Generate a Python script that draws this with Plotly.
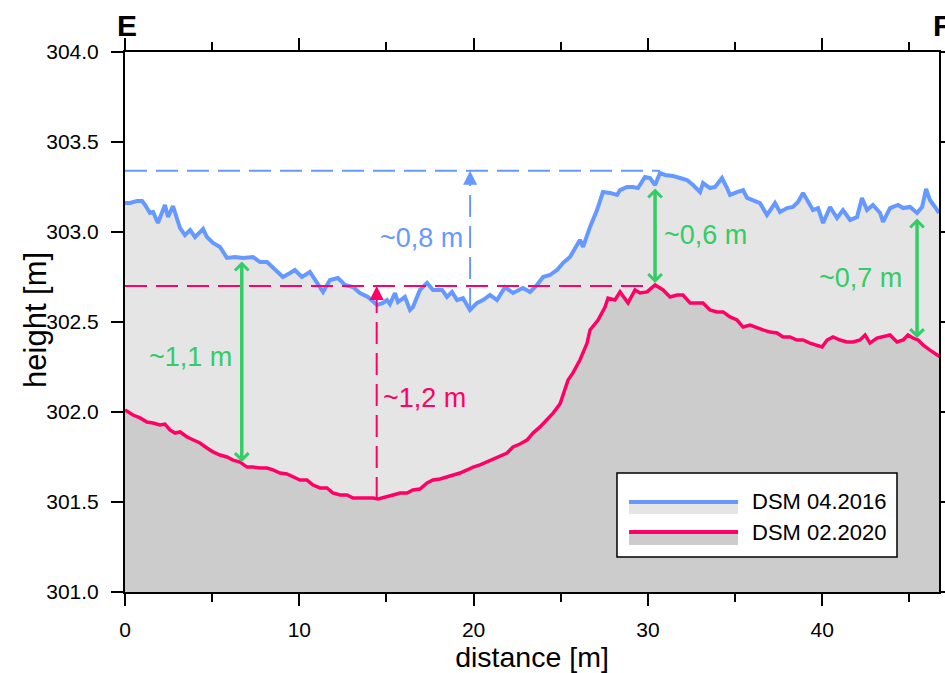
import plotly.graph_objects as go

# ---------------- data ----------------
dist_2016 = [0.00, 0.29, 0.69, 0.98, 1.15, 1.43, 1.61, 1.89, 2.29, 2.47, 2.75, 3.16, 3.44, 3.73, 4.02,
             4.48, 4.70, 5.05, 5.45, 5.85, 6.31, 6.77, 7.34, 7.75, 8.15, 8.49, 9.06, 9.47, 9.75, 10.15,
             10.61, 11.02, 11.36, 11.76, 12.22, 12.62, 13.08, 13.48, 13.94, 14.46, 14.80, 15.03, 15.20,
             15.49, 15.66, 16.06, 16.35, 16.52, 16.92, 17.33, 17.67, 18.19, 18.47, 18.76, 19.05, 19.39,
             19.79, 20.20, 20.54, 20.94, 21.34, 21.80, 22.26, 22.83, 23.24, 23.64, 23.98, 24.38, 24.79,
             25.13, 25.53, 25.93, 26.10, 26.28, 26.68, 27.08, 27.42, 27.83, 28.23, 28.40, 28.80, 29.15,
             29.43, 29.83, 30.12, 30.41, 30.69, 30.98, 31.44, 31.84, 32.24, 32.59, 32.99, 33.16, 33.56,
             33.85, 34.25, 34.54, 34.71, 35.11, 35.46, 35.69, 36.03, 36.43, 36.83, 37.29, 37.58, 37.98,
             38.32, 38.61, 38.90, 39.19, 39.47, 39.76, 40.05, 40.45, 40.85, 41.19, 41.60, 42.00, 42.28,
             42.57, 42.91, 43.32, 43.49, 43.89, 44.35, 44.64, 45.04, 45.44, 45.73, 45.96, 46.18, 46.47,
             46.70]
height_2016 = [303.161, 303.161, 303.172, 303.172, 303.150, 303.106, 303.111, 303.050, 303.150, 303.083,
               303.144, 303.022, 302.983, 303.011, 302.972, 303.017, 302.972, 302.939, 302.917, 302.856,
               302.861, 302.856, 302.861, 302.833, 302.833, 302.800, 302.750, 302.772, 302.789, 302.750,
               302.778, 302.717, 302.667, 302.733, 302.744, 302.706, 302.694, 302.661, 302.639, 302.594,
               302.606, 302.622, 302.600, 302.661, 302.611, 302.639, 302.567, 302.583, 302.678, 302.717,
               302.678, 302.678, 302.639, 302.667, 302.622, 302.633, 302.567, 302.606, 302.622, 302.650,
               302.622, 302.694, 302.661, 302.689, 302.667, 302.706, 302.750, 302.761, 302.789, 302.828,
               302.861, 302.928, 302.956, 302.917, 303.028, 303.122, 303.222, 303.217, 303.206, 303.233,
               303.250, 303.250, 303.244, 303.306, 303.300, 303.261, 303.328, 303.317, 303.311, 303.300,
               303.289, 303.261, 303.222, 303.272, 303.244, 303.250, 303.300, 303.244, 303.206, 303.222,
               303.233, 303.189, 303.178, 303.161, 303.094, 303.161, 303.111, 303.133, 303.139, 303.167,
               303.217, 303.167, 303.122, 303.133, 303.050, 303.139, 303.078, 303.122, 303.067, 303.083,
               303.189, 303.122, 303.150, 303.106, 303.056, 303.133, 303.150, 303.133, 303.139, 303.106,
               303.139, 303.239, 303.178, 303.139, 303.106]

dist_2020 = [0.00, 0.46, 0.86, 1.26, 1.61, 2.01, 2.29, 2.58, 2.87, 3.16, 3.56, 3.90, 4.30, 4.70, 5.05,
             5.45, 5.85, 6.20, 6.60, 7.00, 7.34, 7.75, 8.15, 8.49, 8.89, 9.29, 9.64, 10.04, 10.44, 10.79,
             11.19, 11.59, 11.93, 12.34, 12.74, 13.08, 13.48, 13.88, 14.23, 14.52, 15.03, 15.38, 15.78,
             16.18, 16.52, 16.92, 17.33, 17.67, 18.07, 18.47, 18.82, 19.22, 19.62, 19.97, 20.37, 20.77,
             21.11, 21.51, 21.92, 22.26, 22.66, 23.06, 23.41, 23.81, 24.21, 24.56, 24.96, 25.42, 25.70,
             26.10, 26.51, 26.68, 27.14, 27.54, 27.71, 28.11, 28.40, 28.86, 29.26, 29.55, 29.95, 30.41,
             30.87, 31.27, 31.67, 32.01, 32.42, 32.82, 33.16, 33.56, 33.96, 34.31, 34.71, 35.11, 35.46,
             35.86, 36.26, 36.60, 37.01, 37.41, 37.75, 38.15, 38.55, 38.90, 39.30, 39.70, 39.99, 40.28,
             40.62, 41.02, 41.42, 41.77, 42.17, 42.46, 42.74, 43.14, 43.49, 43.89, 44.29, 44.64, 44.92,
             45.21, 45.50, 45.78, 46.18, 46.59, 46.76]
height_2020 = [302.011, 301.983, 301.967, 301.944, 301.939, 301.928, 301.933, 301.900, 301.883, 301.889,
               301.861, 301.844, 301.828, 301.800, 301.778, 301.761, 301.750, 301.733, 301.722, 301.694,
               301.694, 301.689, 301.689, 301.678, 301.661, 301.656, 301.639, 301.622, 301.622, 301.594,
               301.578, 301.578, 301.550, 301.539, 301.539, 301.522, 301.522, 301.522, 301.522, 301.517,
               301.528, 301.539, 301.550, 301.550, 301.567, 301.572, 301.606, 301.622, 301.628, 301.639,
               301.650, 301.661, 301.678, 301.694, 301.706, 301.722, 301.739, 301.756, 301.772, 301.806,
               301.822, 301.844, 301.883, 301.917, 301.956, 301.994, 302.045, 302.178, 302.217, 302.289,
               302.383, 302.456, 302.511, 302.583, 302.633, 302.622, 302.667, 302.606, 302.678, 302.661,
               302.667, 302.706, 302.678, 302.639, 302.650, 302.650, 302.606, 302.606, 302.606, 302.567,
               302.556, 302.556, 302.528, 302.511, 302.472, 302.483, 302.467, 302.456, 302.444, 302.439,
               302.417, 302.417, 302.400, 302.400, 302.383, 302.372, 302.361, 302.400, 302.417, 302.400,
               302.389, 302.389, 302.400, 302.428, 302.383, 302.411, 302.417, 302.428, 302.389, 302.400,
               302.428, 302.411, 302.400, 302.372, 302.344, 302.317, 302.306]

series_names = ["DSM 04.2016", "DSM 02.2020"]

# reference levels (m)
level_2016_max = 303.34
level_2020_max = 302.70
# dashed markers: (x, bottom, top)
dash_2016 = (19.80, 302.567, 303.34)
dash_2020 = (14.44, 301.517, 302.70)
# green difference arrows: (x, top, bottom)
diff_arrows = [(6.70, 302.844, 301.722), (30.41, 303.250, 302.717), (45.44, 303.083, 302.411)]
# labels: (text, x, y, anchor, colour key)
labels = [("~0,8 m", 19.5, 302.967, "right", "blue"),
          ("~1,2 m", 14.69, 302.078, "left", "pink"),
          ("~1,1 m", 6.25, 302.306, "right", "green"),
          ("~0,6 m", 30.81, 302.983, "left", "green"),
          ("~0,7 m", 44.69, 302.744, "right", "green")]

BLUE = "#6699FF"
PINK = "#FF0066"
GREEN = "#33CC66"
LIGHT = "#E5E5E5"
DARK = "#CCCCCC"
COLORS = {"blue": BLUE, "pink": PINK, "green": GREEN}
FONT = "Arial, 'Liberation Sans', sans-serif"

fig = go.Figure()
fig.add_trace(go.Scatter(x=dist_2016, y=height_2016, mode="lines", name=series_names[0],
                         line=dict(color=BLUE, width=4), fill="tozeroy", fillcolor=LIGHT,
                         showlegend=False))
fig.add_trace(go.Scatter(x=dist_2020, y=height_2020, mode="lines", name=series_names[1],
                         line=dict(color=PINK, width=3.5), fill="tozeroy", fillcolor=DARK,
                         showlegend=False))

# horizontal dashed levels
fig.add_shape(type="line", xref="x", yref="y", x0=0, x1=30.69, y0=level_2016_max, y1=level_2016_max,
              line=dict(color=BLUE, width=2, dash="22px,9px"))
fig.add_shape(type="line", xref="x", yref="y", x0=0, x1=30.41, y0=level_2020_max, y1=level_2020_max,
              line=dict(color=PINK, width=2, dash="22px,9px"))
# vertical dashed measure lines
for (xv, y0, y1), col in [(dash_2016, BLUE), (dash_2020, PINK)]:
    fig.add_shape(type="line", xref="x", yref="y", x0=xv, x1=xv, y0=y0, y1=y1 - 0.05,
                  line=dict(color=col, width=2, dash="22px,9px"))
    fig.add_annotation(x=xv, y=y1, ax=xv, ay=y1 - 0.075, xref="x", yref="y", axref="x", ayref="y",
                       text="", showarrow=True, arrowhead=2, arrowsize=1.4, arrowwidth=2,
                       arrowcolor=col, standoff=0)

# green double arrows
for xv, ytop, ybot in diff_arrows:
    fig.add_annotation(x=xv, y=ybot, ax=xv, ay=ytop, xref="x", yref="y", axref="x", ayref="y",
                       text="", showarrow=True, arrowhead=4, arrowside="end+start",
                       arrowsize=0.75, startarrowsize=0.75, startarrowhead=4,
                       arrowwidth=3.5, arrowcolor=GREEN, standoff=0, startstandoff=0)

for txt, xv, yv, anc, ck in labels:
    fig.add_annotation(x=xv, y=yv, xref="x", yref="y", text=txt, showarrow=False,
                       xanchor=anc, yanchor="middle", font=dict(size=27, color=COLORS[ck], family=FONT))

# section endpoint letters
fig.add_annotation(x=0.0025, y=1, xref="paper", yref="paper", text="<b>E</b>", showarrow=False,
                   xanchor="center", yanchor="bottom", yshift=8, font=dict(size=30, color="black", family=FONT))
fig.add_annotation(x=1.0037, y=1, xref="paper", yref="paper", text="<b>F</b>", showarrow=False,
                   xanchor="center", yanchor="bottom", yshift=8, font=dict(size=30, color="black", family=FONT))

# y-axis title placed as rotated text
fig.add_annotation(x=-0.1106, y=0.5037, xref="paper", yref="paper", text="height [m]", showarrow=False,
                   textangle=-90, xanchor="center", yanchor="middle",
                   font=dict(size=31, color="black", family=FONT))

# ---- legend box (drawn in paper coordinates) ----
leg_box = dict(x0=0.6044, x1=0.9484, y0=0.0648, y1=0.2204)
leg_line_x = (0.6192, 0.7531)
leg_rows = [(0.1667, 0.1444, BLUE, LIGHT), (0.1111, 0.0870, PINK, DARK)]
fig.add_shape(type="rect", xref="paper", yref="paper", fillcolor="white",
              line=dict(color="black", width=1.5), **leg_box)
for (ly, lb, lc, fc), name in zip(leg_rows, series_names):
    fig.add_shape(type="rect", xref="paper", yref="paper", x0=leg_line_x[0], x1=leg_line_x[1],
                  y0=lb, y1=ly, fillcolor=fc, line=dict(width=0))
    fig.add_shape(type="line", xref="paper", yref="paper", x0=leg_line_x[0], x1=leg_line_x[1],
                  y0=ly, y1=ly, line=dict(color=lc, width=4))
    fig.add_annotation(x=0.7678, y=ly, xref="paper", yref="paper", text=name, showarrow=False,
                       xanchor="left", yanchor="middle", font=dict(size=22, color="black", family=FONT))

axis_common = dict(showline=True, linewidth=2, linecolor="black", mirror="ticks", ticks="outside",
                   ticklen=12, tickwidth=2, tickcolor="black", showgrid=False, zeroline=False,
                   tickfont=dict(size=21, color="black", family=FONT))

fig.update_xaxes(range=[0, 46.7], dtick=10, tick0=0,
                 minor=dict(dtick=5, ticks="outside", ticklen=8, tickwidth=2, tickcolor="black"),
                 title=dict(text="distance [m]", font=dict(size=28.5, color="black", family=FONT), standoff=4),
                 ticklabelstandoff=6, **axis_common)
fig.update_yaxes(range=[301, 304], dtick=0.5, tick0=301, tickformat=".1f",
                 ticklabelstandoff=8, **axis_common)

fig.update_layout(
    width=945, height=673,
    margin=dict(l=125, r=6, t=52, b=81, autoexpand=False),
    paper_bgcolor="white", plot_bgcolor="white",
    font=dict(family=FONT, color="black"),
    showlegend=False,
)

fig.write_html("out.html")
